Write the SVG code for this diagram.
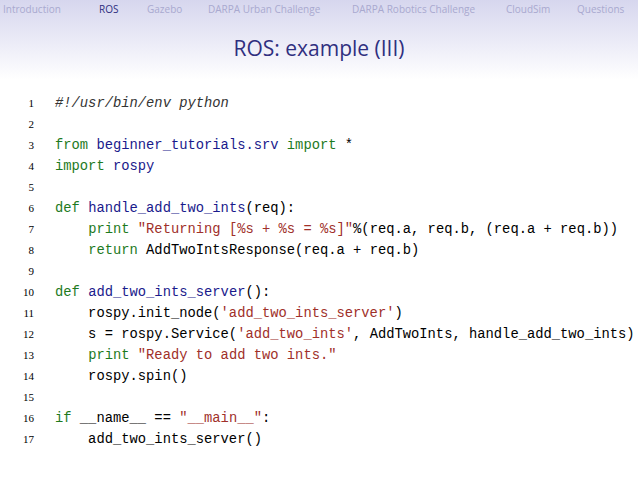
<svg xmlns="http://www.w3.org/2000/svg" width="638" height="479" viewBox="0 0 638 479">
<defs>
<linearGradient id="hg" x1="0" y1="0" x2="0" y2="1">
<stop offset="0" stop-color="#d6d6ee"/>
<stop offset="1" stop-color="#ffffff"/>
</linearGradient>
</defs>
<style>
.nav{font-family:"Open Sans","DejaVu Sans",sans-serif;font-size:10px;fill:#a9a9cf}
.cur{fill:#2f2f7f}
.code{font-family:"Liberation Mono",monospace;font-size:13.8px;fill:#000;white-space:pre}
.ln{font-family:"Liberation Serif",serif;font-size:11px;fill:#000;text-anchor:end}
.k{fill:#1e7a1e}
.i{fill:#1a1a8c}
.s{fill:#a0302a}
.c{font-style:italic;fill:#333}
</style>
<rect width="638" height="479" fill="#fff"/>
<rect width="638" height="80" fill="url(#hg)"/>
<g id="nav">
<text class="nav" x="3" y="13">Introduction</text>
<text class="nav cur" x="99" y="13">ROS</text>
<text class="nav" x="147" y="13">Gazebo</text>
<text class="nav" x="208" y="13">DARPA Urban Challenge</text>
<text class="nav" x="352" y="13">DARPA Robotics Challenge</text>
<text class="nav" x="506" y="13">CloudSim</text>
<text class="nav" x="577" y="13">Questions</text>
</g>
<text id="title" x="319" y="56" text-anchor="middle" font-family="Open Sans,DejaVu Sans,sans-serif" font-size="21" fill="#2f2f7f">ROS: example (III)</text>
<g id="numbers">
<text class="ln" x="34" y="107">1</text>
<text class="ln" x="34" y="128">2</text>
<text class="ln" x="34" y="149">3</text>
<text class="ln" x="34" y="170">4</text>
<text class="ln" x="34" y="191">5</text>
<text class="ln" x="34" y="212">6</text>
<text class="ln" x="34" y="233">7</text>
<text class="ln" x="34" y="254">8</text>
<text class="ln" x="34" y="275">9</text>
<text class="ln" x="34" y="296">10</text>
<text class="ln" x="34" y="317">11</text>
<text class="ln" x="34" y="338">12</text>
<text class="ln" x="34" y="359">13</text>
<text class="ln" x="34" y="380">14</text>
<text class="ln" x="34" y="401">15</text>
<text class="ln" x="34" y="422">16</text>
<text class="ln" x="34" y="443">17</text>
</g>
<g id="code" xml:space="preserve">
<text class="code" x="55" y="107"><tspan class="c">#!/usr/bin/env python</tspan></text>
<text class="code" x="55" y="149"><tspan class="k">from</tspan> <tspan class="i">beginner_tutorials.srv</tspan> <tspan class="k">import</tspan> *</text>
<text class="code" x="55" y="170"><tspan class="k">import</tspan> <tspan class="i">rospy</tspan></text>
<text class="code" x="55" y="212"><tspan class="k">def</tspan> <tspan class="i">handle_add_two_ints</tspan>(req):</text>
<text class="code" x="55" y="233">    <tspan class="k">print</tspan> <tspan class="s">"Returning [%s + %s = %s]"</tspan>%(req.a, req.b, (req.a + req.b))</text>
<text class="code" x="55" y="254">    <tspan class="k">return</tspan> AddTwoIntsResponse(req.a + req.b)</text>
<text class="code" x="55" y="296"><tspan class="k">def</tspan> <tspan class="i">add_two_ints_server</tspan>():</text>
<text class="code" x="55" y="317">    rospy.init_node(<tspan class="s">'add_two_ints_server'</tspan>)</text>
<text class="code" x="55" y="338">    s = rospy.Service(<tspan class="s">'add_two_ints'</tspan>, AddTwoInts, handle_add_two_ints)</text>
<text class="code" x="55" y="359">    <tspan class="k">print</tspan> <tspan class="s">"Ready to add two ints."</tspan></text>
<text class="code" x="55" y="380">    rospy.spin()</text>
<text class="code" x="55" y="422"><tspan class="k">if</tspan> __name__ == <tspan class="s">"__main__"</tspan>:</text>
<text class="code" x="55" y="443">    add_two_ints_server()</text>
</g>
</svg>
